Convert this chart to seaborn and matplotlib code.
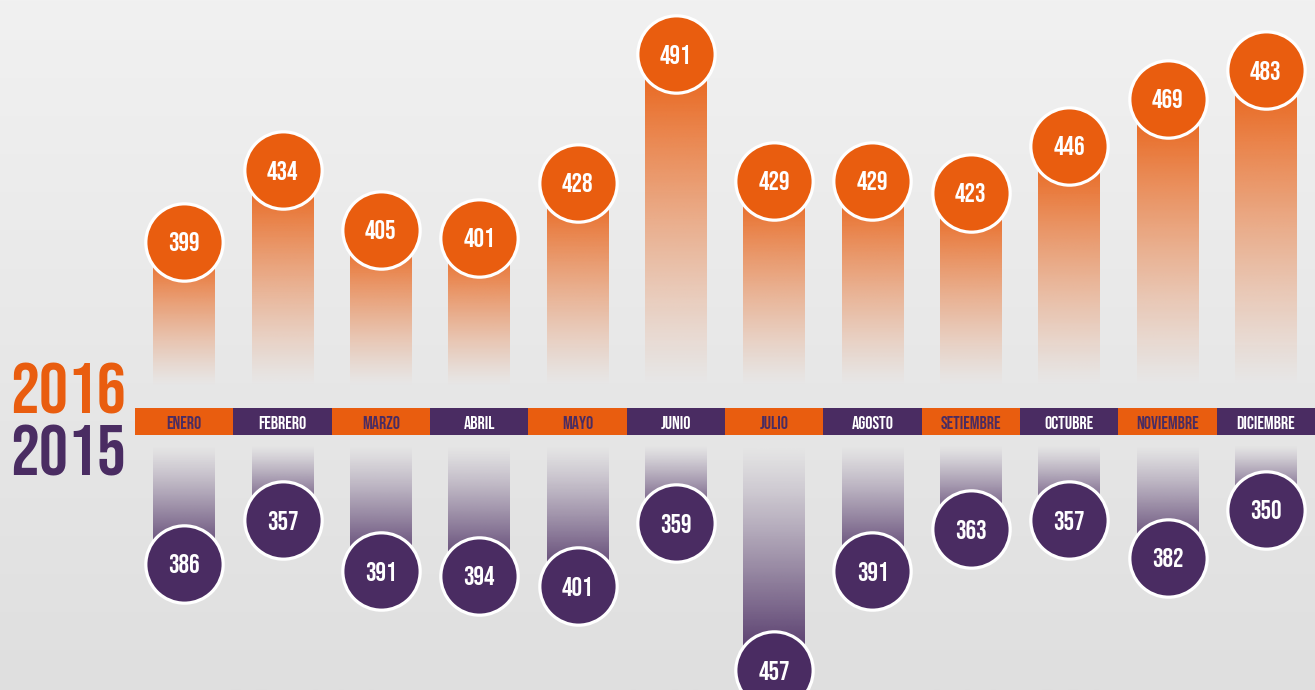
import numpy as np
import pandas as pd
import matplotlib
matplotlib.use("Agg")
import matplotlib.pyplot as plt
from matplotlib import font_manager
from matplotlib.colors import LinearSegmentedColormap, to_rgba
import seaborn as sns

# Data read from the infographic
months = ["ENERO", "FEBRERO", "MARZO", "ABRIL", "MAYO", "JUNIO",
          "JULIO", "AGOSTO", "SETIEMBRE", "OCTUBRE", "NOVIEMBRE", "DICIEMBRE"]
values_2016 = [399, 434, 405, 401, 428, 491, 429, 429, 423, 446, 469, 483]
values_2015 = [386, 357, 391, 394, 401, 359, 457, 391, 363, 357, 382, 350]
years = ["2016", "2015"]

ORANGE = "#E95D0F"
PURPLE = "#4A2C62"

# pick a narrow font if one is around
installed = {f.name for f in font_manager.fontManager.ttflist}
FONT = ["DejaVu Sans"]
for cand in ["Bebas Neue", "Roboto Condensed", "Liberation Sans Narrow", "Open Sans Condensed"]:
    if cand in installed:
        FONT = [cand, "DejaVu Sans"]
        break
STRETCH = "condensed"

df = pd.DataFrame({"month": months, "v2016": values_2016, "v2015": values_2015})

sns.set_theme(style="white")
plt.rcParams["font.family"] = FONT

W, H = 1315, 690
fig = plt.figure(figsize=(W / 100, H / 100), dpi=100)


def px_axes(x0, y0, x1, y1):
    # pixel box measured from the top-left corner
    return fig.add_axes([x0 / W, 1 - y1 / H, (x1 - x0) / W, (y1 - y0) / H])


# background gradient
bg = px_axes(0, 0, W, H)
bg.imshow(np.linspace(0, 1, 256).reshape(-1, 1), aspect="auto", extent=(0, 1, 0, 1),
          cmap=LinearSegmentedColormap.from_list("bg", ["#f1f1f1", "#dfdfdf"]))
bg.axis("off")


def gradient_bars(ax, color, fade_at):
    cmap = LinearSegmentedColormap.from_list("g", [to_rgba(color, 0.0), to_rgba(color, 1.0)])
    xl, yl = ax.get_xlim(), ax.get_ylim()
    grad = (np.linspace(0, 1, 256) ** 1.2)[::-1].reshape(-1, 1)
    for p in ax.patches:
        x0, w, h = p.get_x(), p.get_width(), p.get_height()
        p.set_facecolor("none")
        p.set_edgecolor("none")
        im = ax.imshow(grad, cmap=cmap, aspect="auto", extent=(x0, x0 + w, fade_at, h),
                       origin="upper", zorder=1)
        im.set_clip_path(p)
    ax.set_xlim(xl)
    ax.set_ylim(yl)


def circles(ax, values, color):
    sns.scatterplot(x=np.arange(len(values)), y=values, ax=ax, s=3100, color=color,
                    edgecolor="white", linewidth=2.3, zorder=3, clip_on=False, legend=False)
    for i, v in enumerate(values):
        ax.text(i, v, str(v), ha="center", va="center", color="white", fontsize=19,
                fontweight="bold", fontstretch=STRETCH, zorder=4, family=FONT)


# 2016 (top)
ax_top = px_axes(135, 0, 1315, 408)
sns.barplot(data=df, x="month", y="v2016", ax=ax_top, width=0.63, color=ORANGE, linewidth=0)
ax_top.set_xlim(-0.5, 11.5)
ax_top.set_ylim(317.5, 517.5)
gradient_bars(ax_top, ORANGE, 328)
circles(ax_top, values_2016, ORANGE)
ax_top.axis("off")

# 2015 (bottom, growing downwards)
ax_bot = px_axes(135, 435, 1315, 690)
sns.barplot(data=df, x="month", y="v2015", ax=ax_bot, width=0.63, color=PURPLE, linewidth=0)
ax_bot.set_xlim(-0.5, 11.5)
ax_bot.set_ylim(470.3, 300.3)
gradient_bars(ax_bot, PURPLE, 307)
circles(ax_bot, values_2015, PURPLE)
ax_bot.axis("off")

# month band
ax_band = px_axes(135, 408, 1315, 435)
band_colors = [ORANGE if i % 2 == 0 else PURPLE for i in range(len(months))]
sns.barplot(x=months, y=[1] * len(months), hue=months, palette=band_colors, width=1,
            linewidth=0, saturation=1, ax=ax_band, legend=False)
ax_band.set_xlim(-0.5, 11.5)
ax_band.set_ylim(0, 1)
for i, m in enumerate(months):
    ax_band.text(i, 0.47, m, ha="center", va="center", fontsize=13, fontweight="bold",
                 fontstretch=STRETCH, color=PURPLE if i % 2 == 0 else "white", family=FONT)
ax_band.axis("off")

# year labels
fig.text(68 / W, 1 - 388 / H, years[0], ha="center", va="center", fontsize=52,
         fontweight="bold", fontstretch=STRETCH, color=ORANGE, family=FONT)
fig.text(68 / W, 1 - 450 / H, years[1], ha="center", va="center", fontsize=52,
         fontweight="bold", fontstretch=STRETCH, color=PURPLE, family=FONT)

fig.savefig("out.png", dpi=100)
